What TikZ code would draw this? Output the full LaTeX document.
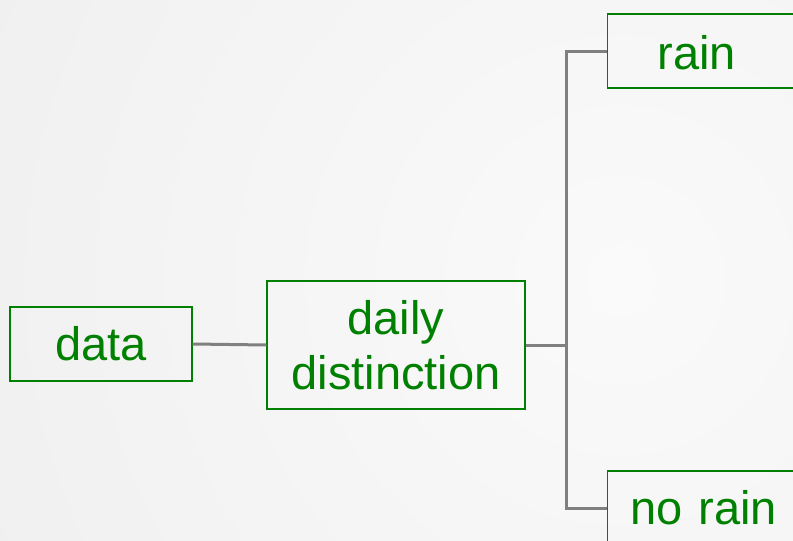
\documentclass[tikz,border=0pt]{standalone}
\usepackage{fontspec}
\setmainfont{Liberation Sans}
\definecolor{boxgreen}{HTML}{008000}
\definecolor{linegray}{HTML}{808080}
\definecolor{bginner}{HTML}{FAFAFA}
\definecolor{bgouter}{HTML}{F0F0F0}
\begin{document}
\begin{tikzpicture}[x=1pt,y=-1pt,
  box/.style={draw=boxgreen, line width=1.3pt, text=boxgreen,
    font=\fontsize{47}{55}\selectfont, inner sep=0pt, align=center},
  conn/.style={draw=linegray, line width=3pt}]
\useasboundingbox (0,0) rectangle (793,541);
\begin{scope}
\clip (0,0) rectangle (793,541);
\shade[inner color=bginner, outer color=bgouter] (620,280) circle (700);
\end{scope}
\node[box, minimum width=182pt, minimum height=74pt] (data) at (101,344) {data};
\node[box, minimum width=258pt, minimum height=128pt] (daily) at (396,345) {daily\\distinction};
\node[box, anchor=west, minimum height=74pt, text width=243pt, inner xsep=50pt,
  align=left, text height=40pt, text depth=4pt] (rain) at (607,51) {rain};
\node[box, anchor=west, minimum height=74pt, text width=297pt, inner xsep=23pt,
  align=left, text height=38pt, text depth=6pt] (norain) at (607,508) {no rain};
\coordinate (split) at (566,345);
\draw[conn] (data.east) -- (daily.west);
\draw[conn] (daily.east) -- (split);
\draw[conn] (rain.west) -| (split) |- (norain.west);
\end{tikzpicture}
\end{document}
